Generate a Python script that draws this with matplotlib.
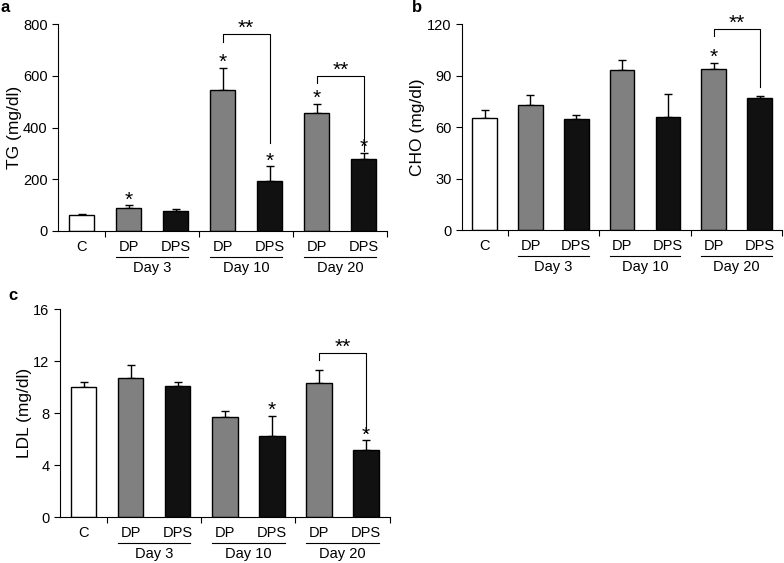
import matplotlib
matplotlib.use("Agg")
import matplotlib.pyplot as plt
import matplotlib.transforms as mtransforms

plt.rcParams['font.family'] = ['Liberation Sans', 'DejaVu Sans']

groups = ['C', 'DP', 'DPS', 'DP', 'DPS', 'DP', 'DPS']
days = ['Day 3', 'Day 10', 'Day 20']
colors = ['white', '#808080', '#111111', '#808080', '#111111', '#808080', '#111111']

tg = [60, 90, 77, 545, 193, 455, 277]
tg_err = [4, 9, 7, 85, 57, 36, 26]
tg_star = [False, True, False, True, True, True, True]
tg_brackets = [(3, 4, 762, 732, 339), (5, 6, 599, 571, 310)]

cho = [65.6, 72.8, 65.0, 93.6, 66.0, 93.8, 77.0]
cho_err = [4.7, 5.8, 2.4, 5.4, 13.2, 3.7, 1.4]
cho_star = [False, False, False, False, False, True, False]
cho_brackets = [(5, 6, 117.5, 113, 83.5)]

ldl = [10.03, 10.72, 10.08, 7.71, 6.22, 10.28, 5.14]
ldl_err = [0.37, 0.95, 0.33, 0.44, 1.57, 1.03, 0.75]
ldl_star = [False, False, False, False, True, False, True]
ldl_brackets = [(5, 6, 12.65, 12.08, 6.55)]


def panel(ax, vals, errs, stars, brackets, ymax, step, ylabel):
    x = list(range(len(vals)))
    ax.bar(x, vals, width=0.54, color=colors, edgecolor='black', linewidth=1.0, zorder=2)
    ax.errorbar(x, vals, yerr=[[0] * len(vals), errs], fmt='none', ecolor='black',
                elinewidth=1.0, capsize=3, capthick=1.0, zorder=1)
    for i in x:
        if stars[i]:
            ax.annotate('*', (i, vals[i] + errs[i]), xytext=(0, -3), textcoords='offset points',
                        ha='center', va='bottom', fontsize=15)
    for i, j, top, lb, rb in brackets:
        ax.plot([i, i, j, j], [lb, top, top, rb], color='black', lw=0.8, clip_on=False)
        ax.annotate('**', ((i + j) / 2, top), xytext=(0, -3), textcoords='offset points',
                    ha='center', va='bottom', fontsize=15, annotation_clip=False)

    ax.set_xlim(-0.5, 6.5)
    ax.set_ylim(0, ymax)
    ax.set_yticks(range(0, ymax + 1, step))
    ax.set_xticks([0.5, 2.5, 4.5, 6.5])
    ax.set_xticklabels([])
    ax.tick_params(direction='out', length=4, width=0.8, labelsize=10.5)
    ax.spines['top'].set_visible(False)
    ax.spines['right'].set_visible(False)
    ax.set_ylabel(ylabel, fontsize=12.5, labelpad=1)

    tr = mtransforms.blended_transform_factory(ax.transData, ax.transAxes)
    for i, g in enumerate(groups):
        ax.text(i, -0.077, g, transform=tr, ha='center', va='center', fontsize=10.5)
    for k, d in enumerate(days):
        a, b = 1 + 2 * k, 2 + 2 * k
        ax.plot([a - 0.27, b + 0.27], [-0.126, -0.126], transform=tr, color='black',
                lw=0.8, clip_on=False)
        ax.text((a + b) / 2, -0.18, d, transform=tr, ha='center', va='center', fontsize=10.5)


fig = plt.figure(figsize=(7.84, 5.63), dpi=100)
ax1 = fig.add_axes([0.074, 0.590, 0.420, 0.367])
ax2 = fig.add_axes([0.589, 0.591, 0.409, 0.366])
ax3 = fig.add_axes([0.0765, 0.0817, 0.4205, 0.3693])

panel(ax1, tg, tg_err, tg_star, tg_brackets, 800, 200, 'TG (mg/dl)')
panel(ax2, cho, cho_err, cho_star, cho_brackets, 120, 30, 'CHO (mg/dl)')
panel(ax3, ldl, ldl_err, ldl_star, ldl_brackets, 16, 4, 'LDL (mg/dl)')

fig.text(5 / 784, 1 - 8 / 563, 'a', fontsize=12, fontweight='bold', ha='center', va='center')
fig.text(417 / 784, 1 - 8 / 563, 'b', fontsize=12, fontweight='bold', ha='center', va='center')
fig.text(13 / 784, 1 - 295 / 563, 'c', fontsize=12, fontweight='bold', ha='center', va='center')

fig.savefig('out.png', dpi=100)
